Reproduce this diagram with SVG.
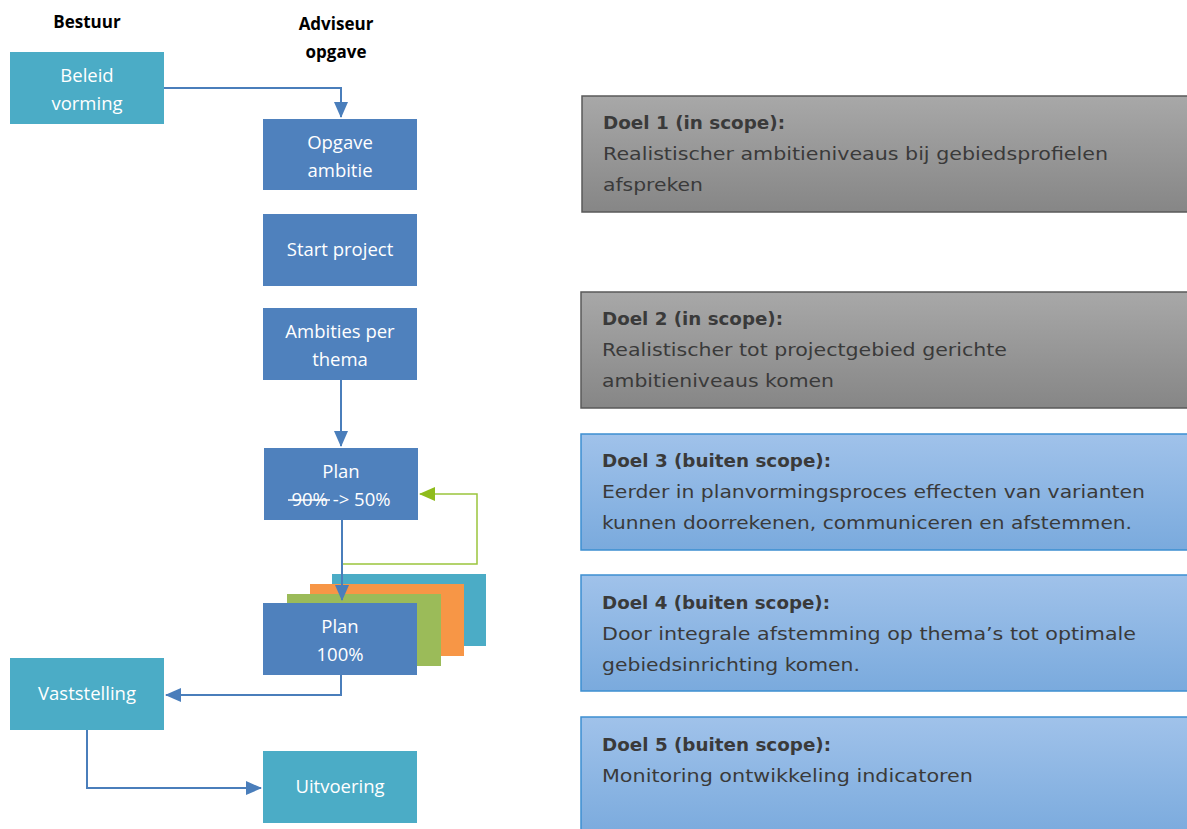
<svg xmlns="http://www.w3.org/2000/svg" width="1187" height="829" viewBox="0 0 1187 829">
<style>
.hdr{font-family:"Open Sans","Liberation Sans",sans-serif;font-weight:bold;font-size:17px;fill:#000;text-anchor:middle}
.nt{font-family:"Open Sans","Liberation Sans",sans-serif;font-size:18.5px;fill:#fff;text-anchor:middle}
.teal{fill:#4bacc6}
.blue{fill:#4f81bd}
.conn{fill:none;stroke:#4a7ebb;stroke-width:2}
.dt{font-family:"DejaVu Sans","Open Sans",sans-serif;font-size:18px;fill:#3a3a3a}
.db{font-weight:bold}
.gbox{fill:url(#gg);stroke:#595959;stroke-width:1.5}
.bbox{fill:url(#bg);stroke:#3d8fd1;stroke-width:1.5}
</style>
<defs>
<linearGradient id="gg" x1="0" y1="0" x2="0" y2="1"><stop offset="0" stop-color="#a8a8a8"/><stop offset="1" stop-color="#868686"/></linearGradient>
<linearGradient id="bg" x1="0" y1="0" x2="0" y2="1"><stop offset="0" stop-color="#a0c2ea"/><stop offset="1" stop-color="#7aaadd"/></linearGradient>
<marker id="ab2" markerWidth="16" markerHeight="16" refX="15" refY="8" orient="auto" markerUnits="userSpaceOnUse" viewBox="0 0 16 16"><path d="M0,1 L16,8 L0,15 z" fill="#4a7ebb"/></marker>
<marker id="ag" markerWidth="16" markerHeight="16" refX="15" refY="8" orient="auto" markerUnits="userSpaceOnUse" viewBox="0 0 16 16"><path d="M0,1 L16,8 L0,15 z" fill="#8fbc1c"/></marker>
</defs>

<text class="hdr" x="87" y="28">Bestuur</text>
<text class="hdr" x="336" y="30">Adviseur</text>
<text class="hdr" x="336" y="58">opgave</text>

<g id="stack">
<rect x="332" y="574" width="154" height="72" fill="#4bacc6"/>
<rect x="310" y="584" width="154" height="72" fill="#f79646"/>
<rect x="287" y="594" width="154" height="72" fill="#9bbb59"/>
</g>

<g id="connectors">
<path class="conn" d="M164,88 H341 V117" marker-end="url(#ab2)"/>
<path class="conn" d="M341,380 V446" marker-end="url(#ab2)"/>
<path d="M342,530 V564 H477 V494 H420" fill="none" stroke="#9bc53d" stroke-width="1.5" marker-end="url(#ag)"/>
<path class="conn" d="M342,520 V600" marker-end="url(#ab2)"/>
<path class="conn" d="M341,675 V695 H166" marker-end="url(#ab2)"/>
<path class="conn" d="M87,730 V788 H261" marker-end="url(#ab2)"/>
</g>

<g id="n-beleid"><rect class="teal" x="10" y="52" width="154" height="72"/><text class="nt" x="87" y="82">Beleid</text><text class="nt" x="87" y="110">vorming</text></g>
<g id="n-opgave"><rect class="blue" x="263" y="119" width="154" height="71"/><text class="nt" x="340" y="149">Opgave</text><text class="nt" x="340" y="177">ambitie</text></g>
<g id="n-start"><rect class="blue" x="263" y="214" width="154" height="72"/><text class="nt" x="340" y="256">Start project</text></g>
<g id="n-ambities"><rect class="blue" x="263" y="308" width="154" height="72"/><text class="nt" x="340" y="338">Ambities per</text><text class="nt" x="340" y="366">thema</text></g>
<g id="n-plan50"><rect class="blue" x="264" y="448" width="154" height="72"/><text class="nt" x="341" y="478">Plan</text><text class="nt" x="341" y="506">90%  -&gt; 50%</text><line x1="288" y1="500" x2="330" y2="500" stroke="#fff" stroke-width="1.5"/></g>
<g id="n-plan100"><rect class="blue" x="263" y="603" width="154" height="72"/><text class="nt" x="340" y="633">Plan</text><text class="nt" x="340" y="661">100%</text></g>
<g id="n-vast"><rect class="teal" x="10" y="658" width="154" height="72"/><text class="nt" x="87" y="700">Vaststelling</text></g>
<g id="n-uit"><rect class="teal" x="263" y="751" width="154" height="72"/><text class="nt" x="340" y="793">Uitvoering</text></g>

<g id="doel1"><rect class="gbox" x="582" y="96" width="606" height="116"/><text class="dt db" x="603" y="129" textLength="182" lengthAdjust="spacingAndGlyphs">Doel 1 (in scope):</text><text class="dt" x="603" y="160" textLength="505" lengthAdjust="spacingAndGlyphs">Realistischer ambitieniveaus bij gebiedsprofielen</text><text class="dt" x="603" y="191" textLength="100" lengthAdjust="spacingAndGlyphs">afspreken</text></g>
<g id="doel2"><rect class="gbox" x="581" y="292" width="607" height="116"/><text class="dt db" x="602" y="325" textLength="181" lengthAdjust="spacingAndGlyphs">Doel 2 (in scope):</text><text class="dt" x="602" y="356" textLength="405" lengthAdjust="spacingAndGlyphs">Realistischer tot projectgebied gerichte</text><text class="dt" x="602" y="387" textLength="232" lengthAdjust="spacingAndGlyphs">ambitieniveaus komen</text></g>
<g id="doel3"><rect class="bbox" x="581" y="434" width="607" height="116"/><text class="dt db" x="602" y="467" textLength="229" lengthAdjust="spacingAndGlyphs">Doel 3 (buiten scope):</text><text class="dt" x="602" y="498" textLength="543" lengthAdjust="spacingAndGlyphs">Eerder in planvormingsproces effecten van varianten</text><text class="dt" x="602" y="529" textLength="530" lengthAdjust="spacingAndGlyphs">kunnen doorrekenen, communiceren en afstemmen.</text></g>
<g id="doel4"><rect class="bbox" x="581" y="575" width="607" height="116"/><text class="dt db" x="602" y="609" textLength="228" lengthAdjust="spacingAndGlyphs">Doel 4 (buiten scope):</text><text class="dt" x="602" y="640" textLength="534" lengthAdjust="spacingAndGlyphs">Door integrale afstemming op thema’s tot optimale</text><text class="dt" x="602" y="671" textLength="258" lengthAdjust="spacingAndGlyphs">gebiedsinrichting komen.</text></g>
<g id="doel5"><rect class="bbox" x="581" y="717" width="607" height="120"/><text class="dt db" x="602" y="751" textLength="229" lengthAdjust="spacingAndGlyphs">Doel 5 (buiten scope):</text><text class="dt" x="602" y="782" textLength="371" lengthAdjust="spacingAndGlyphs">Monitoring ontwikkeling indicatoren</text></g>
</svg>
